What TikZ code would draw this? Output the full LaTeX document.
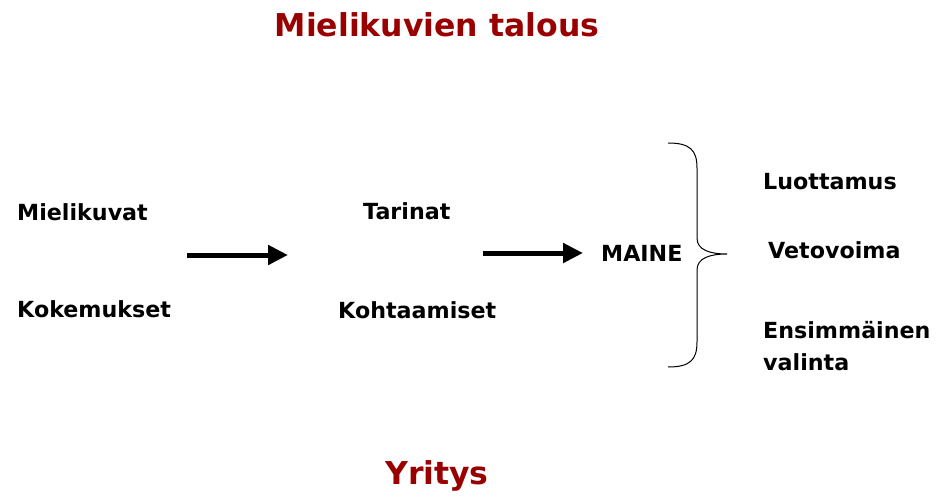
\documentclass[tikz,border=0pt]{standalone}
\usepackage{fontspec}
\setmainfont{DejaVu Sans}
\usetikzlibrary{arrows.meta}
\definecolor{titlered}{HTML}{990000}
\begin{document}
\begin{tikzpicture}[x=1pt,y=-1pt,
  lbl/.style={anchor=west,inner sep=0pt,font=\fontsize{22.2}{32}\selectfont\bfseries},
  ttl/.style={inner sep=0pt,text=titlered,font=\fontsize{31.5}{36}\selectfont\bfseries},
  fatarrow/.style={line width=5pt,-{Triangle[length=20pt,width=19pt]}}]
\useasboundingbox (0,0) rectangle (946,498);
\node[ttl] (title) at (437,25) {Mielikuvien talous};
\node[ttl] (yritys) at (437,476) {Yritys};
\node[lbl] (mk) at (17,212) {Mielikuvat};
\node[lbl] (kok) at (17,309) {Kokemukset};
\node[lbl] (tar) at (363,211) {Tarinat};
\node[lbl] (koh) at (338,310) {Kohtaamiset};
\node[lbl] (maine) at (601,253) {MAINE};
\node[lbl] (luo) at (763,182) {Luottamus};
\node[lbl] (vet) at (768,250) {Vetovoima};
\node[lbl,align=left] (ens) at (763,346) {Ensimmäinen\\valinta};
\coordinate (a1s) at (187,255);
\coordinate (a1e) at (288,255);
\coordinate (a2s) at (483,253);
\coordinate (a2e) at (583,253);
\draw[fatarrow] (a1s) -- (a1e);
\draw[fatarrow] (a2s) -- (a2e);
\coordinate (btop) at (668,143);
\coordinate (btip) at (727,254);
\coordinate (bbot) at (668,367);
\draw[line width=1pt] (btop) .. controls (690,143) and (697,150) .. (697,168)
  -- (697,238) .. controls (697,250) and (710,254) .. (btip)
  .. controls (710,254) and (697,258) .. (697,270)
  -- (697,342) .. controls (697,360) and (690,367) .. (bbot);
\end{tikzpicture}
\end{document}
